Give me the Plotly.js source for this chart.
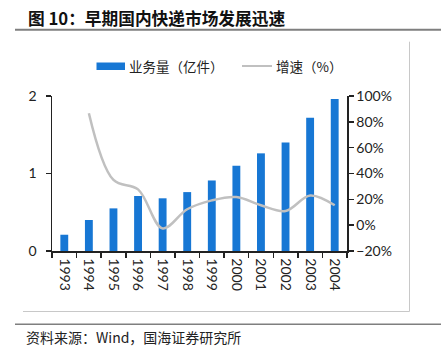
<!DOCTYPE html>
<html><head><meta charset="utf-8">
<script src="https://cdn.plot.ly/plotly-3.0.1.min.js"></script>
<style>html,body{margin:0;padding:0;background:#fff}#c{width:441px;height:351px}</style>
</head><body><div id="c"></div>
<script>
const years = ['1993','1994','1995','1996','1997','1998','1999','2000','2001','2002','2003','2004'];
const volume = [0.21,0.40,0.55,0.71,0.68,0.76,0.91,1.10,1.26,1.40,1.72,1.96];
const growthYears = ['1994','1995','1996','1997','1998','1999','2000','2001','2002','2003','2004'];
const growth = [86.7,35,27.7,-2.5,12.3,19.2,21.8,15.4,11,23,15.4];
const legendBar = '业务量（亿件）';
const legendLine = '增速（%）';
const titleText = '<b>图 10：早期国内快递市场发展迅速</b>';
const sourceText = '资料来源：Wind，国海证券研究所';

const L=52, R=347, T=96, B=251, W=441, H=351;
const px = x => (x-L)/(R-L);
const py = y => (B-y)/(B-T);
const tickFont = {family:'Lato, "Open Sans", sans-serif', size:14, color:'#222'};
const cjk = '"Noto Sans CJK SC", sans-serif';

const traces = [
  {type:'bar', x:years, y:volume, width:0.32, marker:{color:'#1777D4'}, name:legendBar, showlegend:false, yaxis:'y'},
  {type:'scatter', mode:'lines', x:growthYears, y:growth, yaxis:'y2', name:legendLine, showlegend:false,
   line:{color:'#c0c0c0', width:2.5, shape:'spline', smoothing:1}}
];
const layout = {
  width:W, height:H, margin:{l:L, r:W-R, t:T, b:H-B}, paper_bgcolor:'#fff', plot_bgcolor:'rgba(0,0,0,0)',
  xaxis:{type:'category', tickson:'boundaries', ticks:'outside', ticklen:5, tickwidth:1.5, tickcolor:'#222',
    showline:true, linecolor:'#222', linewidth:1.5, tickangle:90, tickfont:{family:tickFont.family,size:14,color:'#222'},
    showgrid:false, fixedrange:true, ticklabelstandoff:3},
  yaxis:{range:[0,2], dtick:1, ticks:'outside', ticklen:5, tickwidth:1.5, tickcolor:'#222', showline:true,
    linecolor:'#222', linewidth:1.5, showgrid:false, zeroline:false, tickfont:tickFont, ticklabelstandoff:6},
  yaxis2:{range:[-20,100], dtick:20, overlaying:'y', side:'right', ticksuffix:'%', ticks:'outside', ticklen:5,
    tickwidth:1.5, tickcolor:'#222', showline:true, linecolor:'#222', linewidth:1.5, showgrid:false, zeroline:false,
    tickfont:tickFont},
  shapes:[
    {type:'line', xref:'paper', yref:'paper', x0:px(15), x1:px(441), y0:py(29.7), y1:py(29.7), line:{color:'#7f7f7f', width:2}},
    {type:'line', xref:'paper', yref:'paper', x0:px(409.5), x1:px(409.5), y0:py(41.7), y1:py(311.5), line:{color:'#c8c8c8', width:1}},
    {type:'line', xref:'paper', yref:'paper', x0:px(23), x1:px(409.5), y0:py(311.5), y1:py(311.5), line:{color:'#c8c8c8', width:1}},
    {type:'line', xref:'paper', yref:'paper', x0:px(15), x1:px(441), y0:py(324.3), y1:py(324.3), line:{color:'#7f7f7f', width:1.5}},
    {type:'rect', xref:'paper', yref:'paper', x0:px(96.5), x1:px(125), y0:py(62.5), y1:py(70), fillcolor:'#1777D4', line:{width:0}},
    {type:'line', xref:'paper', yref:'paper', x0:px(242), x1:px(272), y0:py(66), y1:py(66), line:{color:'#c0c0c0', width:2}}
  ],
  annotations:[
    {xref:'paper', yref:'paper', x:px(26), y:py(18), xanchor:'left', yanchor:'middle', text:titleText, showarrow:false,
     font:{family:cjk, size:16.7, color:'#111'}},
    {xref:'paper', yref:'paper', x:px(127), y:py(66), xanchor:'left', yanchor:'middle', text:legendBar, showarrow:false,
     font:{family:cjk, size:13.5, color:'#222'}},
    {xref:'paper', yref:'paper', x:px(274), y:py(66), xanchor:'left', yanchor:'middle', text:legendLine, showarrow:false,
     font:{family:cjk, size:13.5, color:'#222'}},
    {xref:'paper', yref:'paper', x:px(24), y:py(337), xanchor:'left', yanchor:'middle', text:sourceText, showarrow:false,
     font:{family:cjk, size:14, color:'#222'}}
  ]
};
Plotly.newPlot('c', traces, layout, {displayModeBar:false, staticPlot:true});
</script></body></html>
